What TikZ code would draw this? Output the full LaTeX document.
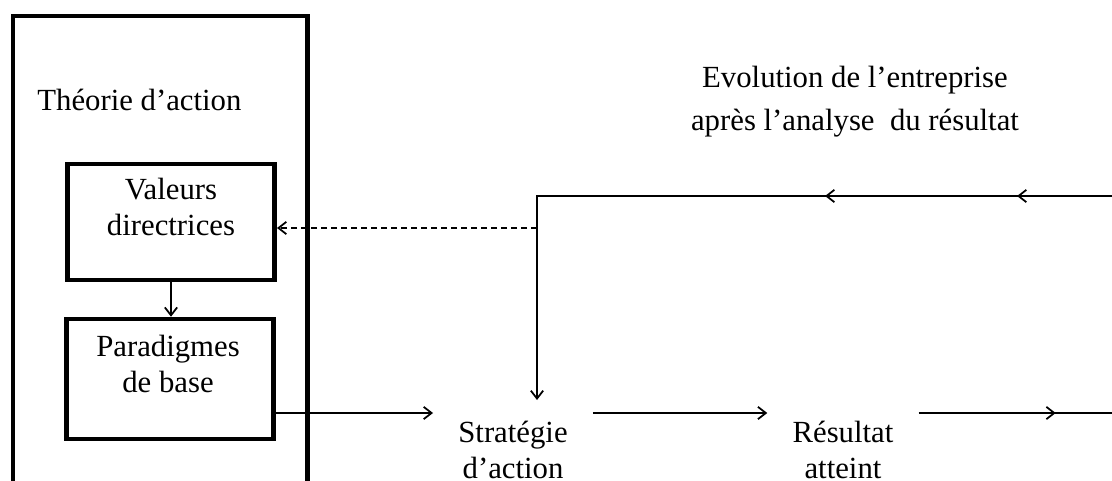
\documentclass[tikz,border=0pt]{standalone}
\usepackage{fontspec}
\setmainfont{Liberation Serif}
\usetikzlibrary{arrows.meta,positioning,decorations.markings}

\begin{document}
\begin{tikzpicture}[x=0.02cm,y=-0.02cm,
  >={Straight Barb[length=4.5pt,width=7pt]},
  texte/.style={font=\fontsize{17.5}{20.5}\selectfont,align=center,inner sep=0pt},
  cadre/.style={draw,line width=2.6pt},
  boite/.style={cadre,minimum width=4.15cm},
  etape/.style={texte,inner xsep=0.5cm,inner ysep=0.16cm},
  lien/.style={line width=1pt},
  fleche/.style={lien,->},
  pointille/.style={lien,->,dash pattern=on 0.12cm off 0.08cm}]
 \useasboundingbox (0,0) rectangle (1112,480);
 % theorie d'action
 \draw[cadre] (13,495) |- (307.5,16) -- (307.5,495);
 \node[texte,anchor=north west] (theorie) at (37,89) {Théorie d’action};
 \node[boite,minimum height=2.32cm] (valeurs) at (171,222) {};
 \node[boite,minimum height=2.4cm] (paradigmes) at (170,379) {};
 \node[texte,anchor=north] (valeurs-txt) at (171,178) {Valeurs\\directrices};
 \node[texte,anchor=north] (paradigmes-txt) at (168,335) {Paradigmes\\de base};
 % etapes
 \node[etape,anchor=north] (strategie) at (513,413) {Stratégie\\d’action};
 \node[etape,anchor=north] (resultat) at (843,413) {Résultat\\atteint};
 \node[texte,anchor=north] (evolution) at (855,66) {Evolution de l’entreprise\\[4pt]après l’analyse~ du résultat};
 \coordinate (retour) at (1112,196);
 \coordinate (coin) at (537,196);
 \coordinate (branche) at (537,228);
 \coordinate (sortie) at (1112,413);
 % liens
 \draw[fleche] (valeurs.south) -- (valeurs.south |- paradigmes.north);
 \draw[fleche] (paradigmes.east |- strategie.north west) -- (strategie.north west);
 \draw[fleche] (strategie.north east) -- (resultat.north east -| resultat.north west);
 \draw[lien,postaction={decorate},
   decoration={markings,mark=at position 2.74cm with {\arrow{>}}}]
   (resultat.north east) -- (sortie);
 \draw[fleche,shorten >=0.26cm,postaction={decorate},
   decoration={markings,mark=at position 1.9cm with {\arrow{>}},
     mark=at position 5.74cm with {\arrow{>}}}]
   (retour) -- (coin) -- (coin |- strategie.north);
 \draw[pointille] (branche) -- (valeurs.east |- branche);
\end{tikzpicture}
\end{document}
